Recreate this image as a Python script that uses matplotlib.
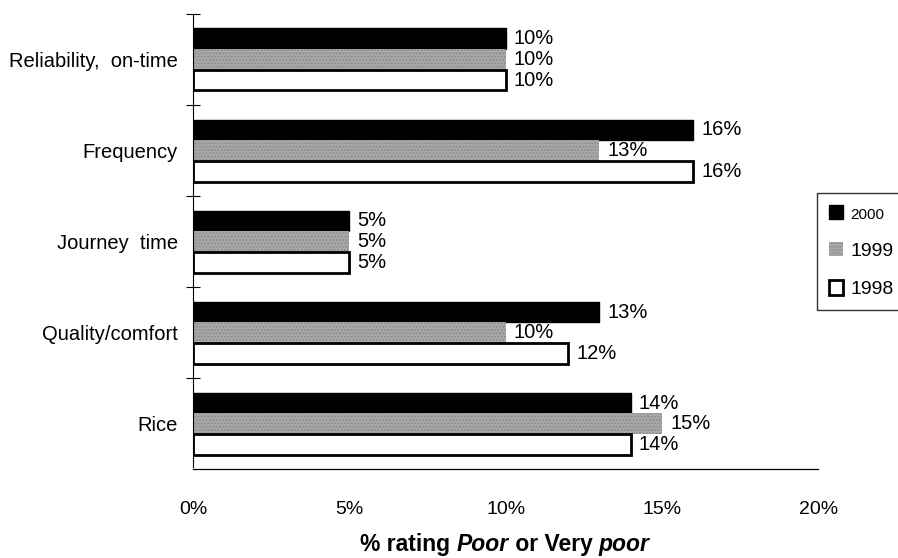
import numpy as np
import matplotlib.pyplot as plt
from matplotlib.ticker import FuncFormatter, FixedLocator

plt.rcParams['font.family'] = ['Liberation Sans', 'DejaVu Sans']

categories = ['Reliability,  on-time', 'Frequency', 'Journey  time', 'Quality/comfort', 'Rice']
years = ['2000', '1999', '1998']
vals_2000 = [10, 16, 5, 13, 14]
vals_1999 = [10, 13, 5, 10, 15]
vals_1998 = [10, 16, 5, 12, 14]

fig = plt.figure(figsize=(8.98, 5.58), dpi=100)
ax = fig.add_axes([0.215, 0.159, 0.696, 0.816])

y = np.arange(len(categories))
h = 0.227

b0 = ax.barh(y - h, vals_2000, height=h, color='black', edgecolor='black', linewidth=1)
b1 = ax.barh(y, vals_1999, height=h, color='#a9a9a9', edgecolor='#8c8c8c',
             hatch='.....', linewidth=0)
b2 = ax.barh(y + h, vals_1998, height=h, color='white', edgecolor='black', linewidth=2)

for bars, vals in [(b0, vals_2000), (b1, vals_1999), (b2, vals_1998)]:
    for rect, v in zip(bars, vals):
        ax.annotate(f'{v}%', xy=(v, rect.get_y() + rect.get_height() / 2),
                    xytext=(6, 0), textcoords='offset points',
                    va='center', ha='left', fontsize=14.5)

ax.set_xlim(0, 20)
ax.set_ylim(len(categories) - 0.5, -0.5)

ax.set_yticks(y)
ax.set_yticklabels(categories, fontsize=14.5)
ax.tick_params(axis='y', which='major', length=0, pad=11)
ax.yaxis.set_minor_locator(FixedLocator(np.arange(-0.5, len(categories) - 0.5, 1)))
ax.tick_params(axis='y', which='minor', direction='inout', length=10, width=0.8)

ax.set_xticks([0, 5, 10, 15, 20])
ax.xaxis.set_major_formatter(FuncFormatter(lambda v, p: f'{v:.0f}%'))
ax.tick_params(axis='x', which='major', length=0, pad=23, labelsize=14)
ax.xaxis.set_minor_locator(FixedLocator([20]))
ax.tick_params(axis='x', which='minor', direction='inout', length=10, width=0.8)

for s in ['top', 'right']:
    ax.spines[s].set_visible(False)
ax.spines['left'].set_linewidth(0.8)
ax.spines['left'].set_bounds(len(categories) - 0.53, -0.5)
ax.spines['bottom'].set_linewidth(0.9)

# x axis title: bold, with "Poor" and "poor" in italic
parts = [('% rating ', 'normal'), ('Poor', 'italic'), (' or Very ', 'normal'), ('poor', 'italic')]
texts = [fig.text(0, 0.013, txt, fontsize=16.5, fontweight='bold', style=st,
                  va='baseline', ha='left') for txt, st in parts]
fig.canvas.draw()
r = fig.canvas.get_renderer()
widths = [t.get_window_extent(r).width for t in texts]
x0 = 505 - sum(widths) / 2
for t, w in zip(texts, widths):
    t.set_x(x0 / 898)
    x0 += w

leg = ax.legend([b0, b1, b2], years, loc='upper left',
                bbox_to_anchor=(0.910, 0.654), bbox_transform=fig.transFigure,
                fontsize=14, frameon=True, fancybox=False, edgecolor='black',
                handlelength=0.75, handleheight=0.75, handletextpad=0.35,
                labelspacing=1.05, borderpad=0.6, borderaxespad=0)
leg.get_frame().set_linewidth(1)
leg.get_texts()[0].set_fontsize(11)

fig.savefig('out.png', dpi=100)
